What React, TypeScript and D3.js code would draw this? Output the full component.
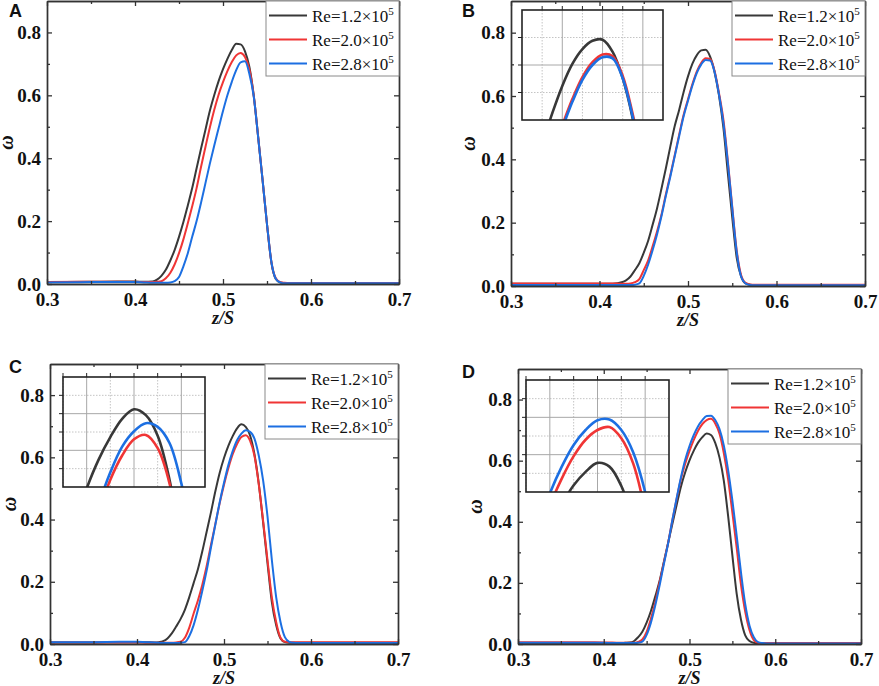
import * as d3 from 'd3';
import { useEffect, useRef } from 'react';

const W = 879;
const H = 686;

// z/S positions shared by every curve
const zs = [
  0.30, 0.35, 0.38, 0.40, 0.41,
  0.42, 0.425, 0.43, 0.435, 0.44, 0.445,
  0.45, 0.455, 0.46, 0.465, 0.47, 0.475,
  0.48, 0.485, 0.49, 0.495, 0.50, 0.505,
  0.51, 0.515, 0.52, 0.525, 0.53, 0.535,
  0.54, 0.545, 0.55, 0.555, 0.56, 0.565,
  0.57, 0.575, 0.58, 0.585, 0.59,
  0.60, 0.65, 0.70,
];

// panel A
const aRe12 = [
  0.006, 0.007, 0.008, 0.008, 0.007,
  0.008, 0.014, 0.026, 0.045, 0.074, 0.108,
  0.150, 0.197, 0.250, 0.305, 0.368, 0.430,
  0.490, 0.550, 0.600, 0.645, 0.683, 0.716,
  0.744, 0.764, 0.762, 0.740, 0.690, 0.598,
  0.467, 0.330, 0.190, 0.068, 0.016, 0.005,
  0.003, 0.002, 0.002, 0.002, 0.002,
  0.002, 0.002, 0.002,
];
const aRe20 = [
  0.006, 0.007, 0.007, 0.007, 0.006,
  0.006, 0.007, 0.009, 0.018, 0.035, 0.062,
  0.098, 0.142, 0.193, 0.247, 0.305, 0.372,
  0.435, 0.497, 0.553, 0.602, 0.642, 0.677,
  0.706, 0.727, 0.735, 0.722, 0.682, 0.597,
  0.466, 0.330, 0.190, 0.070, 0.018, 0.006,
  0.004, 0.003, 0.003, 0.003, 0.003,
  0.003, 0.003, 0.003,
];
const aRe28 = [
  0.005, 0.006, 0.006, 0.006, 0.005,
  0.004, 0.004, 0.004, 0.004, 0.005, 0.009,
  0.022, 0.056, 0.098, 0.150, 0.200, 0.258,
  0.320, 0.382, 0.440, 0.495, 0.550, 0.600,
  0.643, 0.680, 0.705, 0.708, 0.668, 0.595,
  0.465, 0.330, 0.190, 0.070, 0.017, 0.005,
  0.002, 0.002, 0.002, 0.002, 0.002,
  0.002, 0.002, 0.002,
];

// panel B
const bRe12 = [
  0.007, 0.007, 0.007, 0.007, 0.007,
  0.009, 0.012, 0.018, 0.030, 0.050, 0.072,
  0.105, 0.143, 0.193, 0.245, 0.307, 0.372,
  0.440, 0.505, 0.556, 0.612, 0.662, 0.702,
  0.729, 0.744, 0.746, 0.724, 0.676, 0.602,
  0.500, 0.357, 0.217, 0.090, 0.030, 0.008,
  0.004, 0.003, 0.003, 0.003, 0.003,
  0.003, 0.003, 0.003,
];
const bRe20 = [
  0.008, 0.008, 0.008, 0.008, 0.008,
  0.008, 0.007, 0.007, 0.008, 0.012, 0.022,
  0.050, 0.081, 0.125, 0.172, 0.225, 0.290,
  0.350, 0.413, 0.478, 0.540, 0.590, 0.638,
  0.678, 0.705, 0.719, 0.716, 0.680, 0.610,
  0.525, 0.395, 0.250, 0.113, 0.035, 0.010,
  0.005, 0.004, 0.004, 0.004, 0.004,
  0.004, 0.004, 0.004,
];
const bRe28 = [
  0.003, 0.003, 0.003, 0.003, 0.003,
  0.003, 0.003, 0.003, 0.003, 0.004, 0.008,
  0.032, 0.068, 0.113, 0.163, 0.220, 0.285,
  0.345, 0.410, 0.473, 0.535, 0.585, 0.633,
  0.673, 0.700, 0.714, 0.712, 0.676, 0.605,
  0.515, 0.390, 0.245, 0.108, 0.030, 0.008,
  0.003, 0.002, 0.002, 0.002, 0.002,
  0.002, 0.002, 0.002,
];

// panel C
const cRe12 = [
  0.005, 0.005, 0.006, 0.006, 0.006,
  0.005, 0.006, 0.009, 0.018, 0.034, 0.056,
  0.080, 0.110, 0.150, 0.195, 0.240, 0.297,
  0.360, 0.423, 0.490, 0.550, 0.598, 0.637,
  0.668, 0.693, 0.706, 0.698, 0.670, 0.610,
  0.515, 0.390, 0.260, 0.135, 0.060, 0.018,
  0.006, 0.004, 0.004, 0.004, 0.004,
  0.004, 0.004, 0.004,
];
const cRe20 = [
  0.005, 0.005, 0.005, 0.005, 0.004,
  0.004, 0.004, 0.004, 0.004, 0.004, 0.005,
  0.007, 0.020, 0.052, 0.097, 0.140, 0.190,
  0.250, 0.318, 0.385, 0.452, 0.512, 0.565,
  0.610, 0.643, 0.665, 0.671, 0.653, 0.605,
  0.512, 0.395, 0.270, 0.150, 0.070, 0.020,
  0.007, 0.006, 0.006, 0.006, 0.006,
  0.006, 0.006, 0.006,
];
const cRe28 = [
  0.006, 0.006, 0.007, 0.007, 0.006,
  0.005, 0.004, 0.003, 0.003, 0.003, 0.003,
  0.004, 0.006, 0.025, 0.060, 0.110, 0.170,
  0.235, 0.310, 0.383, 0.455, 0.518, 0.575,
  0.620, 0.655, 0.676, 0.687, 0.682, 0.660,
  0.605, 0.525, 0.410, 0.270, 0.150, 0.070,
  0.022, 0.007, 0.004, 0.003, 0.003,
  0.003, 0.003, 0.003,
];

// panel D
const dRe12 = [
  0.003, 0.003, 0.003, 0.003, 0.003,
  0.003, 0.004, 0.005, 0.009, 0.022, 0.040,
  0.070, 0.108, 0.155, 0.205, 0.268, 0.330,
  0.393, 0.455, 0.515, 0.562, 0.601, 0.633,
  0.659, 0.677, 0.689, 0.684, 0.658, 0.610,
  0.535, 0.420, 0.290, 0.165, 0.080, 0.028,
  0.010, 0.004, 0.003, 0.002, 0.002,
  0.002, 0.002, 0.002,
];
const dRe20 = [
  0.006, 0.006, 0.006, 0.005, 0.005,
  0.004, 0.004, 0.004, 0.004, 0.007, 0.015,
  0.040, 0.083, 0.135, 0.200, 0.265, 0.330,
  0.405, 0.475, 0.540, 0.590, 0.632, 0.668,
  0.698, 0.720, 0.733, 0.737, 0.722, 0.688,
  0.625, 0.540, 0.430, 0.315, 0.195, 0.105,
  0.045, 0.013, 0.004, 0.003, 0.003,
  0.003, 0.003, 0.003,
];
const dRe28 = [
  0.004, 0.004, 0.004, 0.004, 0.003,
  0.003, 0.003, 0.003, 0.003, 0.004, 0.008,
  0.030, 0.070, 0.125, 0.190, 0.260, 0.328,
  0.405, 0.477, 0.545, 0.603, 0.648, 0.684,
  0.713, 0.733, 0.746, 0.747, 0.733, 0.703,
  0.650, 0.570, 0.470, 0.355, 0.235, 0.130,
  0.060, 0.022, 0.006, 0.003, 0.002,
  0.002, 0.002, 0.002,
];

const legendLabels = ['Re=1.2×10', 'Re=2.0×10', 'Re=2.8×10'];
const legendExp = '5';
const colors = ['#383838', '#f03535', '#1c6fe2'];

const xTicks = [0.3, 0.4, 0.5, 0.6, 0.7];
const xMinor = [0.35, 0.45, 0.55, 0.65];
const yTicks = [0, 0.2, 0.4, 0.6, 0.8];
const yMinor = [0.1, 0.3, 0.5, 0.7];

// inset grids
const insetXMajor = [0.5, 0.52, 0.54];
const insetXMinor = [0.49, 0.51, 0.53];
const insetBYMajor = [0.7];
const insetBYMinor = [0.65, 0.75];
const insetCYMajor = [0.65, 0.7];
const insetCYMinor = [0.625, 0.675, 0.725];
const insetDYMajor = [0.7, 0.75];
const insetDYMinor = [0.675, 0.725, 0.775];

const serif = 'Liberation Serif, Times New Roman, Times, serif';
const sans = 'Liberation Sans, Arial, Helvetica, sans-serif';
const frameColor = '#333';

const panels = [
  {
    letter: 'A', series: [aRe12, aRe20, aRe28],
    frame: [47, 399, 1, 284], letterPos: [9, 17], yLabelX: 13,
    inset: null,
  },
  {
    letter: 'B', series: [bRe12, bRe20, bRe28],
    frame: [511, 865, 1, 286], letterPos: [462, 17], yLabelX: 475,
    inset: { frame: [522, 663, 10, 120], x: [0.48, 0.55], y: [0.6, 0.8], yMajor: insetBYMajor, yMinor: insetBYMinor },
  },
  {
    letter: 'C', series: [cRe12, cRe20, cRe28],
    frame: [50, 398, 364, 644], letterPos: [9, 373], yLabelX: 16,
    inset: { frame: [63, 205, 377, 487], x: [0.49, 0.55], y: [0.6, 0.75], yMajor: insetCYMajor, yMinor: insetCYMinor },
  },
  {
    letter: 'D', series: [dRe12, dRe20, dRe28],
    frame: [518, 861, 369, 644], letterPos: [462, 378], yLabelX: 482,
    inset: { frame: [526, 669, 380, 492], x: [0.49, 0.55], y: [0.65, 0.8], yMajor: insetDYMajor, yMinor: insetDYMinor },
  },
];

function styleAxis(sel: any) {
  sel.attr('color', frameColor);
  sel.selectAll('path.domain').attr('stroke-width', 1.4);
  sel.selectAll('.tick line').attr('stroke-width', 1.3);
  sel.selectAll('.tick text')
    .attr('fill', '#111')
    .attr('font-family', serif)
    .attr('font-size', 19)
    .attr('font-weight', 'bold');
}

function drawInset(g: any, p: any) {
  const ins = p.inset;
  const [l, r, t, b] = ins.frame;
  const x = d3.scaleLinear().domain(ins.x).range([l, r]);
  const y = d3.scaleLinear().domain(ins.y).range([b, t]);

  g.append('rect')
    .attr('x', l).attr('y', t).attr('width', r - l).attr('height', b - t)
    .attr('fill', '#fff');

  const grid = g.append('g');
  insetXMinor.forEach(v => grid.append('line')
    .attr('x1', x(v)).attr('x2', x(v)).attr('y1', t).attr('y2', b)
    .attr('stroke', '#c4c4c4').attr('stroke-dasharray', '1.5 1.5'));
  ins.yMinor.forEach((v: number) => grid.append('line')
    .attr('x1', l).attr('x2', r).attr('y1', y(v)).attr('y2', y(v))
    .attr('stroke', '#c4c4c4').attr('stroke-dasharray', '1.5 1.5'));
  insetXMajor.forEach(v => grid.append('line')
    .attr('x1', x(v)).attr('x2', x(v)).attr('y1', t).attr('y2', b)
    .attr('stroke', '#a8a8a8'));
  ins.yMajor.forEach((v: number) => grid.append('line')
    .attr('x1', l).attr('x2', r).attr('y1', y(v)).attr('y2', y(v))
    .attr('stroke', '#a8a8a8'));

  const clipId = 'inset-clip-' + p.letter;
  g.append('clipPath').attr('id', clipId)
    .append('rect').attr('x', l).attr('y', t).attr('width', r - l).attr('height', b - t);

  const line = d3.line<number>()
    .x((_, i) => x(zs[i]))
    .y(d => y(d))
    .curve(d3.curveCatmullRom.alpha(0.5));

  const curves = g.append('g').attr('clip-path', `url(#${clipId})`);
  p.series.forEach((s: number[], i: number) => {
    curves.append('path')
      .attr('d', line(s))
      .attr('fill', 'none')
      .attr('stroke', colors[i])
      .attr('stroke-width', 2.6);
  });

  // small outward ticks on left and top
  [...ins.yMajor, ...ins.yMinor].forEach((v: number) => g.append('line')
    .attr('x1', l - 4).attr('x2', l).attr('y1', y(v)).attr('y2', y(v))
    .attr('stroke', '#222').attr('stroke-width', 1));
  [...insetXMajor, ...insetXMinor].forEach(v => g.append('line')
    .attr('x1', x(v)).attr('x2', x(v)).attr('y1', t - 4).attr('y2', t)
    .attr('stroke', '#222').attr('stroke-width', 1));

  g.append('rect')
    .attr('x', l).attr('y', t).attr('width', r - l).attr('height', b - t)
    .attr('fill', 'none').attr('stroke', '#222').attr('stroke-width', 1.6);
}

function drawPanel(svg: any, p: any) {
  const [l, r, t, b] = p.frame;
  const x = d3.scaleLinear().domain([0.3, 0.7]).range([l, r]);
  const y = d3.scaleLinear().domain([0, 0.9]).range([b, t]);
  const g = svg.append('g');

  const clipId = 'clip-' + p.letter;
  g.append('clipPath').attr('id', clipId)
    .append('rect').attr('x', l).attr('y', t).attr('width', r - l).attr('height', b - t);

  const line = d3.line<number>()
    .x((_, i) => x(zs[i]))
    .y(d => y(d))
    .curve(d3.curveMonotoneX);

  const curves = g.append('g').attr('clip-path', `url(#${clipId})`);
  p.series.forEach((s: number[], i: number) => {
    curves.append('path')
      .attr('d', line(s))
      .attr('fill', 'none')
      .attr('stroke', colors[i])
      .attr('stroke-width', 2);
  });

  // axes, ticks inward on all four sides
  const fmt = d3.format('.1f');
  g.append('g').attr('transform', `translate(0,${b})`)
    .call(d3.axisBottom(x).tickValues(xTicks).tickFormat(fmt).tickSizeInner(-5).tickSizeOuter(0).tickPadding(9))
    .call(styleAxis);
  g.append('g').attr('transform', `translate(0,${b})`)
    .call(d3.axisBottom(x).tickValues(xMinor).tickFormat(() => '').tickSizeInner(-3).tickSizeOuter(0))
    .call(styleAxis);
  g.append('g').attr('transform', `translate(0,${t})`)
    .call(d3.axisTop(x).tickValues(xTicks).tickFormat(() => '').tickSizeInner(-5).tickSizeOuter(0))
    .call(styleAxis);
  g.append('g').attr('transform', `translate(0,${t})`)
    .call(d3.axisTop(x).tickValues(xMinor).tickFormat(() => '').tickSizeInner(-3).tickSizeOuter(0))
    .call(styleAxis);
  g.append('g').attr('transform', `translate(${l},0)`)
    .call(d3.axisLeft(y).tickValues(yTicks).tickFormat(fmt).tickSizeInner(-5).tickSizeOuter(0).tickPadding(6))
    .call(styleAxis);
  g.append('g').attr('transform', `translate(${l},0)`)
    .call(d3.axisLeft(y).tickValues(yMinor).tickFormat(() => '').tickSizeInner(-3).tickSizeOuter(0))
    .call(styleAxis);
  g.append('g').attr('transform', `translate(${r},0)`)
    .call(d3.axisRight(y).tickValues(yTicks).tickFormat(() => '').tickSizeInner(-5).tickSizeOuter(0))
    .call(styleAxis);
  g.append('g').attr('transform', `translate(${r},0)`)
    .call(d3.axisRight(y).tickValues(yMinor).tickFormat(() => '').tickSizeInner(-3).tickSizeOuter(0))
    .call(styleAxis);

  // legend
  const lw = 133;
  const lx = r - lw;
  const leg = g.append('g');
  leg.append('rect')
    .attr('x', lx).attr('y', t).attr('width', lw).attr('height', 75)
    .attr('fill', '#fff').attr('stroke', '#8a8a8a').attr('stroke-width', 1);
  legendLabels.forEach((label, i) => {
    const ly = t + 14.5 + i * 24;
    leg.append('line')
      .attr('x1', lx + 3).attr('x2', lx + 41).attr('y1', ly).attr('y2', ly)
      .attr('stroke', colors[i]).attr('stroke-width', 2);
    const txt = leg.append('text')
      .attr('x', lx + 46).attr('y', ly + 6)
      .attr('font-family', serif).attr('font-size', 17).attr('fill', '#111');
    txt.append('tspan').text(label);
    txt.append('tspan').attr('dy', -7).attr('font-size', 11).text(legendExp);
  });

  if (p.inset) drawInset(g, p);

  // titles
  g.append('text')
    .attr('x', (l + r) / 2).attr('y', b + 40)
    .attr('text-anchor', 'middle')
    .attr('font-family', serif).attr('font-size', 18)
    .attr('font-weight', 'bold').attr('font-style', 'italic').attr('fill', '#111')
    .text('z/S');
  g.append('text')
    .attr('transform', `translate(${p.yLabelX},${(t + b) / 2}) rotate(-90)`)
    .attr('text-anchor', 'middle')
    .attr('font-family', serif).attr('font-size', 20)
    .attr('font-weight', 'bold').attr('font-style', 'italic').attr('fill', '#111')
    .text('ω');
  g.append('text')
    .attr('x', p.letterPos[0]).attr('y', p.letterPos[1])
    .attr('font-family', sans).attr('font-size', 18)
    .attr('font-weight', 'bold').attr('fill', '#111')
    .text(p.letter);
}

export default function App() {
  const svgRef = useRef<SVGSVGElement>(null);

  useEffect(() => {
    const svg = d3.select(svgRef.current);
    svg.selectAll('*').remove();
    panels.forEach(p => drawPanel(svg, p));
  }, []);

  return (
    <svg
      ref={svgRef}
      width={W}
      height={H}
      viewBox={`0 0 ${W} ${H}`}
      style={{ position: 'absolute', left: 0, top: 0, background: '#fff' }}
    />
  );
}
